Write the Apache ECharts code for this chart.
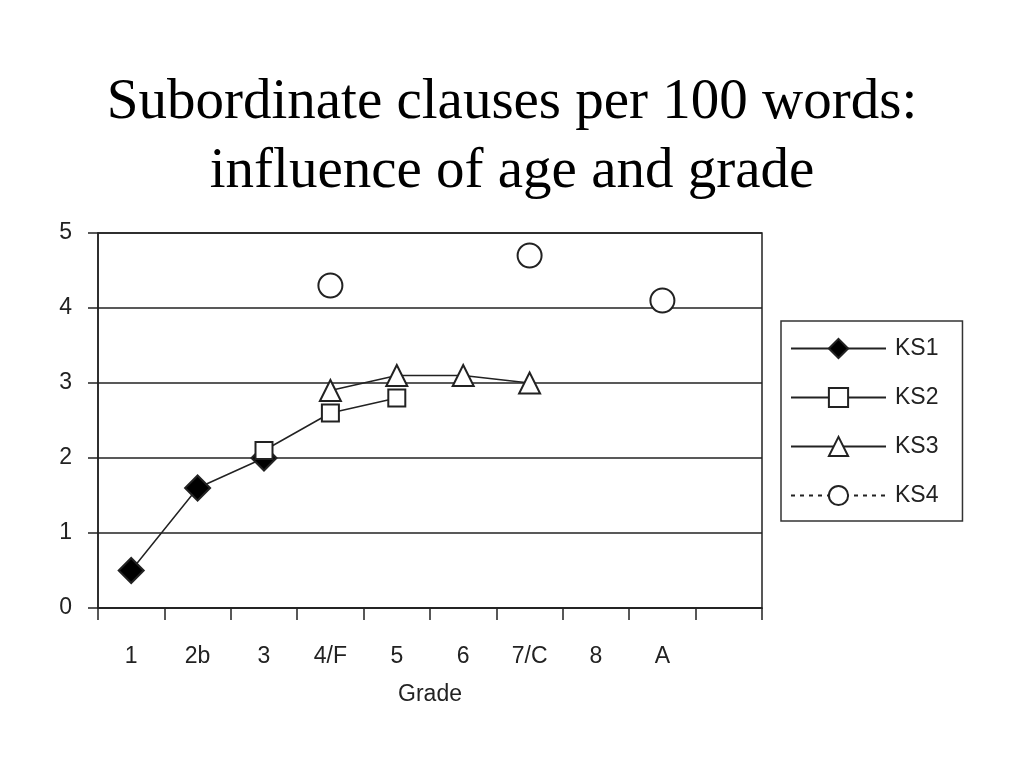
<!DOCTYPE html>
<html>
<head>
<meta charset="utf-8">
<script src="https://cdn.jsdelivr.net/npm/echarts@6/dist/echarts.min.js"></script>
<style>
html,body{margin:0;padding:0;background:#fff;}
#chart{width:1024px;height:768px;}
</style>
</head>
<body>
<div id="chart"></div>
<script>
const categories = ['1', '2b', '3', '4/F', '5', '6', '7/C', '8', 'A', ''];
const ks1 = [0.5, 1.6, 2.0, null, null, null, null, null, null, null];
const ks2 = [null, null, 2.1, 2.6, 2.8, null, null, null, null, null];
const ks3 = [null, null, null, 2.9, 3.1, 3.1, 3.0, null, null, null];
const ks4 = [null, null, null, 4.3, null, null, 4.7, null, 4.1, null];
const yTicks = [0, 1, 2, 3, 4, 5];

const chart = echarts.init(document.getElementById('chart'));
const lineCol = '#222';
const sans = 'Liberation Sans, Arial, sans-serif';
function mk(name, data, symbol, size, fill, dashed) {
  return {
    name: name, type: 'line', data: data,
    symbol: symbol, symbolSize: size,
    connectNulls: false,
    lineStyle: { color: lineCol, width: 1.5, type: dashed ? [4, 5] : 'solid' },
    itemStyle: { color: fill, borderColor: lineCol, borderWidth: 2 },
    emphasis: { disabled: true },
    animation: false
  };
}
chart.setOption({
  backgroundColor: '#fff',
  animation: false,
  title: {
    text: 'Subordinate clauses per 100 words:\ninfluence of age and grade',
    left: 'center', top: 64,
    textStyle: { fontFamily: 'Liberation Serif, Times New Roman, serif', fontSize: 57, fontWeight: 'normal', color: '#000', lineHeight: 69 }
  },
  grid: { left: 98, right: 262, top: 233, bottom: 160, show: true, borderColor: '#222', borderWidth: 1.5, backgroundColor: 'transparent' },
  legend: {
    orient: 'vertical', left: 781, top: 321,
    data: ['KS1', 'KS2', 'KS3', 'KS4'],
    itemWidth: 95, itemHeight: 24, itemGap: 26,
    padding: [16, 24, 14, 9],
    borderColor: '#333', borderWidth: 1.5,
    textStyle: { fontFamily: sans, fontSize: 23, color: '#222', padding: [0, 0, 0, 4] },
    selectedMode: false
  },
  xAxis: {
    type: 'category', data: categories, boundaryGap: true,
    name: 'Grade', nameLocation: 'middle', nameGap: 75,
    nameTextStyle: { fontFamily: sans, fontSize: 23, color: '#222' },
    axisLine: { lineStyle: { color: '#222', width: 1.5 } },
    axisTick: { show: true, length: 12, interval: 0, lineStyle: { color: '#222', width: 1.5 } },
    axisLabel: { interval: 0, margin: 37, fontFamily: sans, fontSize: 23, color: '#222' },
    splitLine: { show: false }
  },
  yAxis: {
    type: 'value', min: yTicks[0], max: yTicks[yTicks.length - 1], interval: 1,
    axisLine: { show: true, lineStyle: { color: '#222', width: 1.5 } },
    axisTick: { show: true, length: 10, lineStyle: { color: '#222', width: 1.5 } },
    axisLabel: { margin: 26, fontFamily: sans, fontSize: 23, color: '#222' },
    splitLine: { show: true, lineStyle: { color: '#222', width: 1.5 } }
  },
  series: [
    mk('KS1', ks1, 'diamond', 25, '#000', false),
    mk('KS2', ks2, 'rect', 17, '#fff', false),
    mk('KS3', ks3, 'triangle', 21, '#fff', false),
    mk('KS4', ks4, 'circle', 24, '#fff', true)
  ]
});
</script>
</body>
</html>
